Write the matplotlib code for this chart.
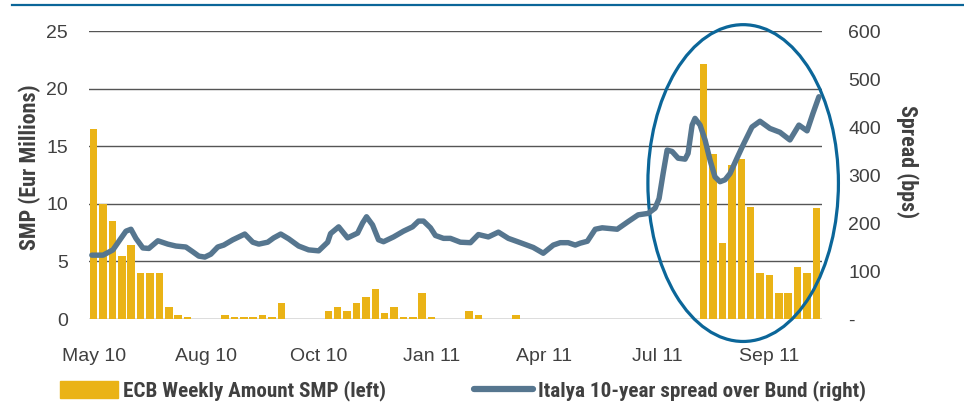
import matplotlib
matplotlib.use("Agg")
import matplotlib.pyplot as plt
from matplotlib.patches import Ellipse, Patch
from matplotlib.lines import Line2D
from matplotlib import font_manager as fm
import numpy as np

avail = {f.name for f in fm.fontManager.ttflist}
def pick(*names):
    for n in names:
        if n in avail:
            return n
    return 'DejaVu Sans'
COND = pick('Roboto Condensed', 'IBM Plex Sans Condensed', 'Liberation Sans Narrow', 'DejaVu Sans')
REG = pick('Liberation Sans', 'DejaVu Sans')

# ECB weekly SMP purchases (EUR bn, left axis), one bar per week starting May 2010
smp = [16.5, 10.0, 8.5, 5.5, 6.4, 4.0, 4.0, 4.0, 1.0, 0.33,
       0.17, 0, 0, 0, 0.35, 0.15, 0.15, 0.15, 0.35, 0.15,
       1.36, 0, 0, 0, 0, 0.7, 1.04, 0.7, 1.4, 1.9,
       2.6, 0.52, 1.04, 0.2, 0.2, 2.26, 0.2, 0, 0, 0,
       0.7, 0.35, 0, 0, 0, 0.35, 0, 0, 0, 0,
       0, 0, 0, 0, 0, 0, 0, 0, 0, 0,
       0, 0, 0, 0, 0, 22.1, 14.3, 6.6, 13.4, 13.9,
       9.76, 4.0, 3.85, 2.29, 2.29, 4.55, 4.0, 9.6]

# Italy 10y spread over Bund (bps, right axis); time in weeks since start
spread_week = [-0.2, 1.0, 2.05, 2.9, 3.44, 3.97, 4.5, 5.24, 5.88, 6.84,
               7.9, 8.76, 9.82, 10.56, 11.2, 11.84, 12.48, 13.22, 13.86, 14.82,
               16.1, 16.95, 17.59, 18.54, 19.18, 19.93, 20.78, 21.84, 22.9, 23.97,
               24.93, 25.24, 26.1, 27.05, 28.12, 28.65, 29.07, 29.71, 30.35, 30.88,
               31.95, 33.01, 33.97, 34.61, 35.14, 35.88, 36.41, 37.27, 38.01, 39.07,
               40.14, 40.99, 42.05, 43.12, 44.18, 45.46, 46.84, 47.9, 48.97, 49.71,
               50.56, 51.31, 51.84, 52.6, 53.44, 54.18, 55.78, 56.95, 58.01, 59.07,
               59.82, 60.24, 60.67, 61.1, 61.63, 62.27, 63.01, 63.33, 63.76, 64.07,
               64.61, 65.14, 65.67, 66.2, 66.73, 67.27, 67.8, 68.54, 69.18, 70.14,
               70.99, 72.05, 73.12, 74.18, 75.14, 76.01, 76.63, 77.27]
spread_bps = [133, 133, 144, 168, 183, 187, 168, 148, 147, 163,
              156, 152, 150, 140, 131, 129, 135, 150, 154, 165,
              177, 160, 156, 160, 169, 177, 167, 152, 144, 142,
              160, 178, 192, 169, 179, 200, 213, 196, 165, 161,
              171, 183, 192, 204, 204, 190, 174, 168, 168, 160,
              159, 176, 171, 181, 168, 159, 149, 137, 154, 159,
              159, 154, 158, 162, 187, 190, 187, 203, 217, 220,
              231, 251, 303, 352, 349, 335, 333, 345, 404, 418,
              404, 373, 331, 296, 286, 290, 303, 335, 362, 400,
              412, 397, 389, 373, 404, 392, 428, 463]

tick_weeks = [0, 12, 24, 36, 48, 60, 72]
tick_labels = ['May 10', 'Aug 10', 'Oct 10', 'Jan 11', 'Apr 11', 'Jul 11', 'Sep 11']
left_ticks = [0, 5, 10, 15, 20, 25]
right_ticks = [0, 100, 200, 300, 400, 500, 600]
right_labels = ['-', '100', '200', '300', '400', '500', '600']

BAR = '#EAB316'
LINE = '#56768F'
TXT = '#404040'
GRID = '#555555'
BLUE = '#0B6699'

W, H = 964, 407
fig = plt.figure(figsize=(W / 100, H / 100), dpi=100)
ax = fig.add_axes([89 / W, 1 - 319 / H, 733 / W, 288 / H])
ax2 = ax.twinx()

x = np.arange(len(smp))
ax.bar(x, smp, width=0.8, color=BAR, zorder=2)
for v in left_ticks:
    ax.axhline(v, color=GRID, lw=1.0, zorder=1)
ax.set_xlim(-0.5, 77.6)
ax.set_ylim(0, 25)
ax.set_yticks(left_ticks)
ax.set_xticks(tick_weeks)
ax.set_xticklabels(tick_labels)
ax.tick_params(axis='y', length=0, pad=15, labelsize=14, labelcolor=TXT)
ax.tick_params(axis='x', length=0, pad=21, labelsize=14, labelcolor=TXT)
for lab in ax.get_xticklabels() + ax.get_yticklabels():
    lab.set_family(REG)

ell = Ellipse((69.2, 11.8), 20.3, 27.5, fill=False, edgecolor=BLUE, lw=2.3,
              zorder=5, clip_on=False)
ax.add_patch(ell)

ax2.plot(spread_week, spread_bps, color=LINE, lw=3.9, solid_capstyle='round', zorder=6)
ax2.set_ylim(0, 600)
ax2.set_yticks(right_ticks)
ax2.set_yticklabels(right_labels)
ax2.tick_params(axis='y', length=0, pad=19, labelsize=14, labelcolor=TXT)
for lab in ax2.get_yticklabels():
    lab.set_family(REG)

for a in (ax, ax2):
    for s in a.spines.values():
        s.set_visible(False)

fig.text(30 / W, 1 - 167 / H, 'SMP (Eur Millions)', rotation=90, ha='center', va='center',
         fontsize=15.8, fontweight='bold', color=TXT, family=COND)
fig.text(907 / W, 1 - 162 / H, 'Spread (bps)', rotation=270, ha='center', va='center',
         fontsize=15.8, fontweight='bold', color=TXT, family=COND)

# top rule
fig.add_artist(Line2D([12 / W, 1.0], [1 - 5 / H, 1 - 5 / H], transform=fig.transFigure,
                      color=BLUE, lw=1.6))

lp = dict(frameon=False, borderpad=0, borderaxespad=0, handletextpad=0.25,
          prop={'family': COND, 'weight': 'bold', 'size': 15.2}, labelcolor=TXT,
          loc='center left')
fig.legend(handles=[Patch(color=BAR, label='ECB Weekly Amount SMP (left)')],
           bbox_to_anchor=(60 / W, 1 - 391 / H), handlelength=2.75, handleheight=0.8, **lp)
fig.legend(handles=[Line2D([], [], color=LINE, lw=4.5, solid_capstyle='round',
                           label='Italya 10-year spread over Bund (right)')],
           bbox_to_anchor=(474 / W, 1 - 391 / H), handlelength=2.8, **lp)

fig.savefig('out.png', dpi=100, facecolor='white')
